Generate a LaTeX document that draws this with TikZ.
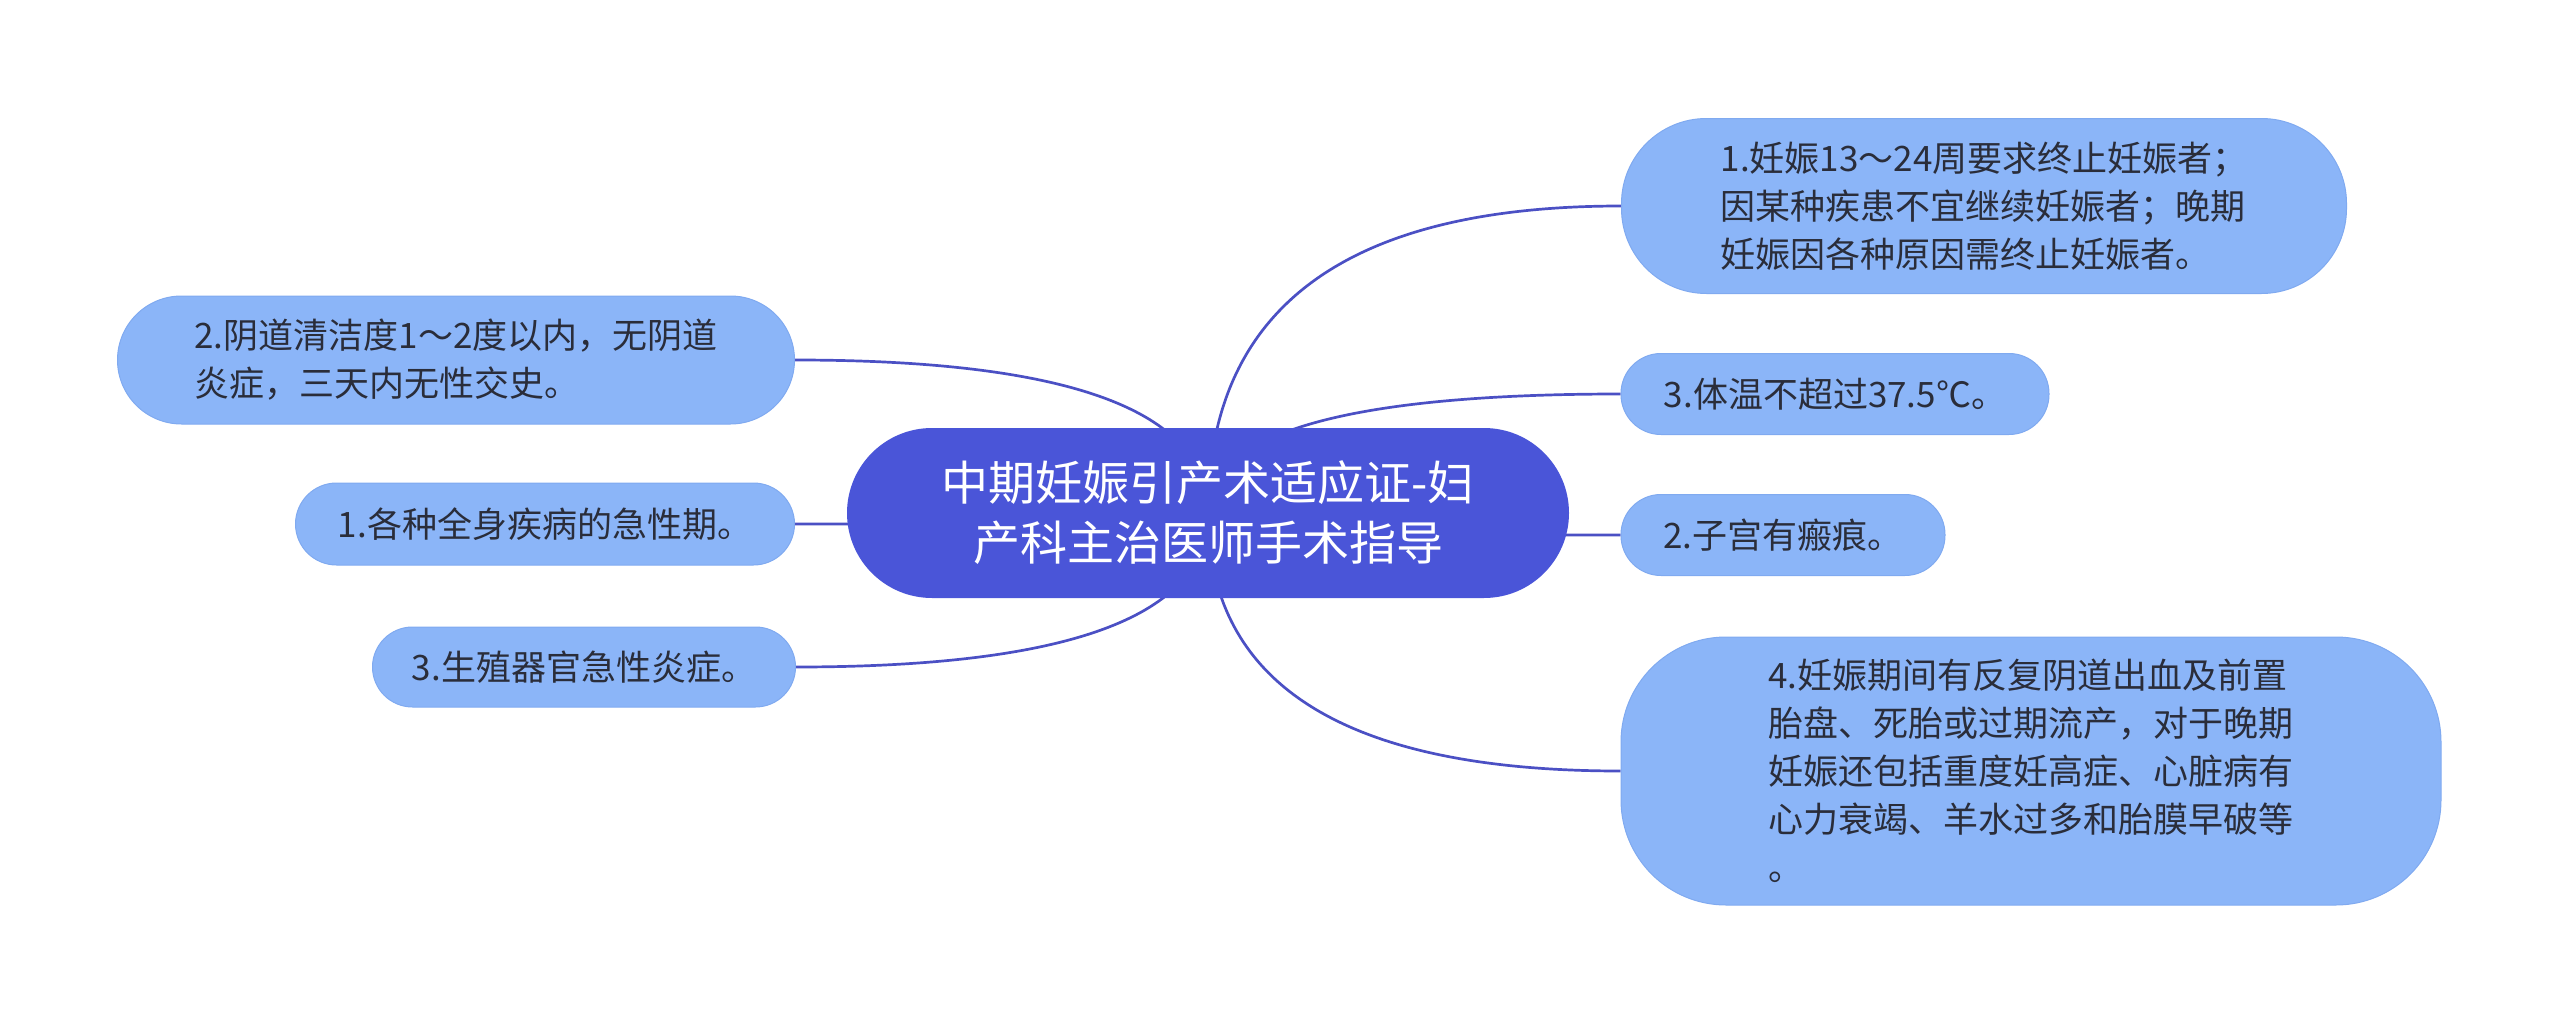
\documentclass[tikz,border=0pt]{standalone}
\usepackage{fontspec}
\setmainfont{Noto Sans CJK SC}
\usetikzlibrary{calc,backgrounds}
\definecolor{MMhub}{HTML}{4A55D8}
\definecolor{MMleaf}{HTML}{8BB5F8}
\definecolor{MMleafline}{HTML}{80AAF0}
\definecolor{MMlink}{HTML}{4B50C4}
\definecolor{MMtext}{HTML}{2A2D3A}
\tikzset{
  hubbox/.style={rounded corners=85pt, fill=MMhub, text=white, align=center, minimum width=722pt, minimum height=170pt, inner sep=0pt, font=\fontsize{47}{60}\selectfont},
  leafbox/.style={fill=MMleaf, draw=MMleafline, line width=1pt, text=MMtext, align=left, inner sep=0pt, font=\fontsize{35}{48}\selectfont},
  linkline/.style={draw=MMlink, line width=2.7pt}
}
\begin{document}
\begin{tikzpicture}[x=1pt, y=-1pt]
\useasboundingbox (0,0) rectangle (2560,1025);
\node[hubbox] (hub) at (1208,513) {中期妊娠引产术适应证-妇\\产科主治医师手术指导};
\node[leafbox, rounded corners=85pt, minimum width=725pt, minimum height=175pt] (ra) at (1984,206) {1.妊娠13～24周要求终止妊娠者；\\因某种疾患不宜继续妊娠者；晚期\\妊娠因各种原因需终止妊娠者。};
\node[leafbox, rounded corners=40pt, minimum width=428pt, minimum height=81pt] (rb) at (1835,394) {3.体温不超过37.5℃。};
\node[leafbox, rounded corners=40pt, minimum width=324pt, minimum height=81pt] (rc) at (1783,535) {2.子宫有瘢痕。};
\node[leafbox, rounded corners=105pt, minimum width=820pt, minimum height=268pt] (rd) at (2031,771) {4.妊娠期间有反复阴道出血及前置\\胎盘、死胎或过期流产，对于晚期\\妊娠还包括重度妊高症、心脏病有\\心力衰竭、羊水过多和胎膜早破等\\。};
\node[leafbox, rounded corners=64pt, minimum width=677pt, minimum height=128pt] (la) at (456,360) {2.阴道清洁度1～2度以内，无阴道\\炎症，三天内无性交史。};
\node[leafbox, rounded corners=41pt, minimum width=499pt, minimum height=82pt] (lb) at (545,524) {1.各种全身疾病的急性期。};
\node[leafbox, rounded corners=40pt, minimum width=423pt, minimum height=80pt] (lc) at (584,667) {3.生殖器官急性炎症。};
\begin{scope}[on background layer]
\foreach \leaf/\side in {ra/west,rb/west,rc/west,rd/west,la/east,lb/east,lc/east}{
  \coordinate (bend) at (hub.center |- \leaf.\side);
  \draw[linkline] (hub.center) .. controls ($(hub.center)!0.667!(bend)$) and ($(\leaf.\side)!0.667!(bend)$) .. (\leaf.\side);
}
\end{scope}
\end{tikzpicture}
\end{document}
